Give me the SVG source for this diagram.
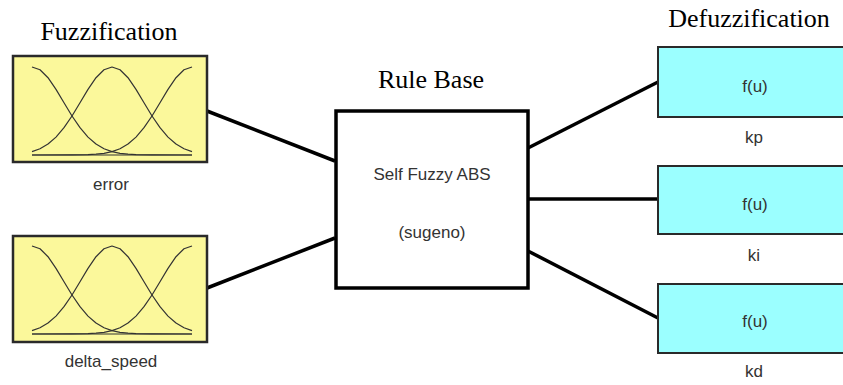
<svg xmlns="http://www.w3.org/2000/svg" width="843" height="385" viewBox="0 0 843 385">
<style>
.title{font-family:"Liberation Serif","Times New Roman",serif;font-size:26px;fill:#000;text-anchor:middle}
.lbl{font-family:"Liberation Sans",Arial,sans-serif;font-size:17px;fill:#333;text-anchor:middle}
.in{fill:#fbf89b;stroke:#2a2a2a;stroke-width:2.5}
.out{fill:#9bffff;stroke:#2a2a2a;stroke-width:2}
.rule{fill:#fff;stroke:#000;stroke-width:3.5}
.mf{fill:none;stroke:#333;stroke-width:1.2;stroke-linejoin:round}
.conn{stroke:#000;stroke-width:3.5;fill:none}
</style>
<defs>
<g id="mfs">
<polyline class="mf" points="32,67 40,69.8 48,77.7 56,89.4 64,102.7 72,116 80,127.7 88,137.1 96,144 104,148.7 112,151.6 120,153.3 128,154.2 136,154.6 152,154.9 192,155"/>
<polyline class="mf" points="32,151.6 40,148.7 48,144 56,137.1 64,127.7 72,116 80,102.7 88,89.4 96,77.7 104,69.8 112,67 120,69.8 128,77.7 136,89.4 144,102.7 152,116 160,127.7 168,137.1 176,144 184,148.7 192,151.6"/>
<polyline class="mf" points="32,155 72,154.9 88,154.6 96,154.2 104,153.3 112,151.6 120,148.7 128,144 136,137.1 144,127.7 152,116 160,102.7 168,89.4 176,77.7 184,69.8 192,67"/>
<line class="mf" x1="32" y1="155" x2="192" y2="155"/>
</g>
</defs>
<text class="title" x="109" y="40">Fuzzification</text>
<text class="title" x="431" y="88">Rule Base</text>
<text class="title" x="749" y="27">Defuzzification</text>
<g id="connectors">
<line class="conn" x1="207" y1="111" x2="335" y2="161"/>
<line class="conn" x1="207" y1="288" x2="335" y2="238"/>
<line class="conn" x1="528" y1="148" x2="658" y2="82"/>
<line class="conn" x1="528" y1="199" x2="658" y2="199"/>
<line class="conn" x1="528" y1="251" x2="658" y2="318"/>
</g>
<g id="error">
<rect class="in" x="13" y="56" width="194" height="106"/>
<use href="#mfs"/>
<text class="lbl" x="111" y="190">error</text>
</g>
<g id="delta_speed">
<rect class="in" x="13" y="236" width="194" height="106"/>
<use href="#mfs" transform="translate(0,179)"/>
<text class="lbl" x="111" y="367">delta_speed</text>
</g>
<g id="rulebase">
<rect class="rule" x="336" y="111" width="192" height="177"/>
<text class="lbl" x="432" y="180">Self Fuzzy ABS</text>
<text class="lbl" x="432" y="238">(sugeno)</text>
</g>
<g id="kp">
<rect class="out" x="658" y="47" width="200" height="70"/>
<text class="lbl" x="755" y="92">f(u)</text>
<text class="lbl" x="754" y="143">kp</text>
</g>
<g id="ki">
<rect class="out" x="658" y="166" width="200" height="68"/>
<text class="lbl" x="755" y="210">f(u)</text>
<text class="lbl" x="754" y="261">ki</text>
</g>
<g id="kd">
<rect class="out" x="658" y="284" width="200" height="69"/>
<text class="lbl" x="755" y="327">f(u)</text>
<text class="lbl" x="754" y="377">kd</text>
</g>
</svg>
